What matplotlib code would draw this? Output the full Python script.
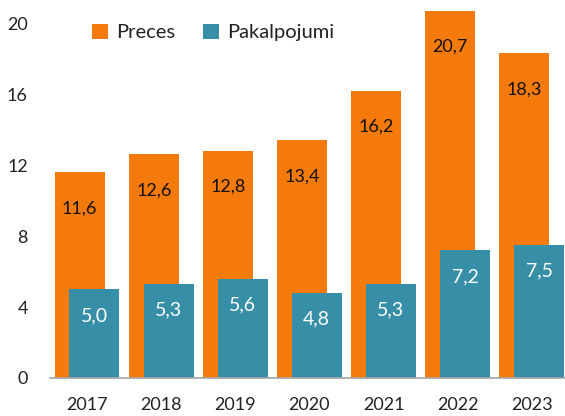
import matplotlib
matplotlib.use("Agg")
import matplotlib.pyplot as plt
import numpy as np

years = ["2017", "2018", "2019", "2020", "2021", "2022", "2023"]
preces = [11.6, 12.6, 12.8, 13.4, 16.2, 20.7, 18.3]
pakalpojumi = [5.0, 5.3, 5.6, 4.8, 5.3, 7.2, 7.5]
yticks = [0, 4, 8, 12, 16, 20]

plt.rcParams['font.family'] = ['Lato', 'DejaVu Sans']

orange = "#F47A0B"
teal = "#378EA7"

fig = plt.figure(figsize=(5.65, 4.16), dpi=100)
ax = fig.add_axes([50/565, 38/416, 515/565, 378/416])

x = np.arange(len(years))
w = 0.675
off = 0.1
b1 = ax.bar(x - off, preces, w, color=orange, label="Preces", zorder=2)
b2 = ax.bar(x + off, pakalpojumi, w, color=teal, label="Pakalpojumi", zorder=3)

def fmt(v):
    return f"{v:.1f}".replace(".", ",")

for xi, v in zip(x, preces):
    ax.annotate(fmt(v), (xi - off, v), xytext=(0, -26), textcoords="offset points",
                ha="center", va="center", fontsize=13, color="#111111", zorder=4)
for xi, v in zip(x, pakalpojumi):
    ax.annotate(fmt(v), (xi + off, v), xytext=(0, -19), textcoords="offset points",
                ha="center", va="center", fontsize=14, color="white", zorder=4)

ax.set_xlim(-0.5, 6.45)
ax.set_ylim(0, 21.3)
ax.set_yticks(yticks)
ax.set_yticklabels([str(t) for t in yticks], fontsize=13, color="#222222")
ax.set_xticks(x)
ax.set_xticklabels(years, fontsize=13, color="#222222")
ax.tick_params(axis="both", length=0)
ax.tick_params(axis="x", pad=14)
ax.tick_params(axis="y", pad=16)
for s in ["top", "right", "left"]:
    ax.spines[s].set_visible(False)
ax.spines["bottom"].set_color("#A6A6A6")
ax.spines["bottom"].set_linewidth(1.2)
ax.spines["bottom"].set_zorder(5)

leg = ax.legend(loc="upper left", bbox_to_anchor=(0.05, 0.98), ncol=2, frameon=False,
                fontsize=14.5, handlelength=0.8, handleheight=0.8, handletextpad=0.4,
                columnspacing=1.4, borderaxespad=0.4)
for t in leg.get_texts():
    t.set_color("#222222")

fig.savefig("out.png", dpi=100)
